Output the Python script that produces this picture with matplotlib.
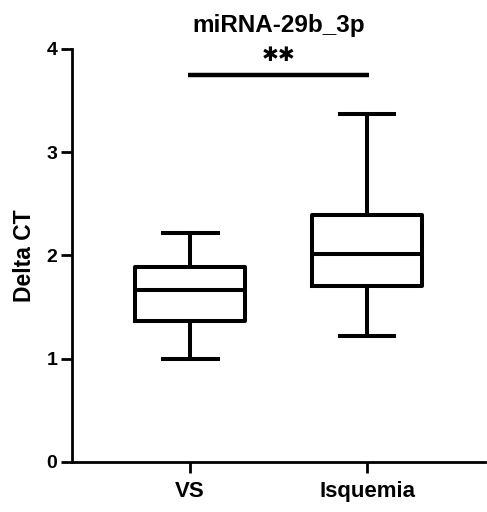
import matplotlib
matplotlib.use("Agg")
import matplotlib.pyplot as plt

categories = ["VS", "Isquemia"]
# whislo, q1, median, q3, whishi
vs_stats = [1.00, 1.37, 1.67, 1.886, 2.22]
isq_stats = [1.22, 1.70, 2.01, 2.39, 3.37]
title = "miRNA-29b_3p"
ylabel = "Delta CT"
sig_label = "✱✱"
sig_y = 3.75
yticks = [0, 1, 2, 3, 4]

plt.rcParams['font.family'] = ['Liberation Sans', 'DejaVu Sans']
plt.rcParams['font.weight'] = 'bold'

fig = plt.figure(figsize=(4.87, 5.12), dpi=100)
ax = fig.add_axes([0.148, 0.0977, 0.848, 0.8066])

stats = []
for lab, s in zip(categories, [vs_stats, isq_stats]):
    stats.append(dict(label=lab, whislo=s[0], q1=s[1], med=s[2], q3=s[3], whishi=s[4], fliers=[]))

lw = 2.9
ax.bxp(stats, positions=[0, 1], widths=0.62, showfliers=False,
       boxprops=dict(color='black', linewidth=lw),
       medianprops=dict(color='black', linewidth=lw, solid_capstyle='butt'),
       whiskerprops=dict(color='black', linewidth=lw),
       capprops=dict(color='black', linewidth=lw))

ax.set_xlim(-0.667, 1.667)
ax.set_ylim(0, 4)
ax.set_yticks(yticks)
ax.set_xticks([0, 1])
ax.set_xticklabels(categories)
for side in ['top', 'right']:
    ax.spines[side].set_visible(False)
for side in ['left', 'bottom']:
    ax.spines[side].set_linewidth(2.0)
ax.tick_params(axis='both', width=2.0, length=8)
ax.tick_params(axis='y', labelsize=14, pad=2.5)
ax.tick_params(axis='x', labelsize=16, pad=6)
for t in ax.get_xticklabels() + ax.get_yticklabels():
    t.set_fontweight('bold')

ax.set_ylabel(ylabel, fontsize=16.5, fontweight='bold', labelpad=8)
ax.set_title(title, fontsize=17.5, fontweight='bold', pad=12.5)

ax.plot([-0.01, 1.01], [sig_y, sig_y], color='black', linewidth=3.2, clip_on=False,
        solid_capstyle='butt')
ax.text(0.5, sig_y + 0.19, sig_label, ha='center', va='center', fontsize=14.5,
        fontweight='bold', family=['DejaVu Sans'])

fig.savefig("out.png", dpi=100)
